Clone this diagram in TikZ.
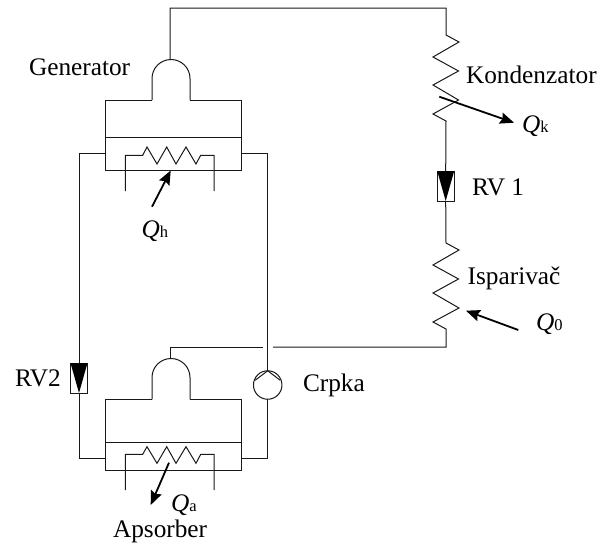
\documentclass[tikz,border=0pt]{standalone}
\usepackage{fontspec}
\setmainfont{Liberation Serif}
\usetikzlibrary{arrows.meta}
\tikzset{
  pipe/.style={draw=black!90,line width=1pt,line join=miter},
  lbl/.style={anchor=base west,inner sep=0pt,outer sep=0pt,font=\fontsize{25.3}{28}\selectfont,text=black},
  heatflow/.style={draw=black,line width=1.8pt,-{Stealth[length=14pt,width=11.5pt,inset=2pt]}},
  valvebox/.style={draw=black!90,line width=0.8pt,fill=white,minimum width=17pt,minimum height=30pt,inner sep=0pt,outer sep=0pt},
  pumpc/.style={circle,draw=black!90,line width=1pt,minimum size=28.5pt,inner sep=0pt,outer sep=0pt}
}
\newcommand{\Qsym}[1]{\textit{Q}{\fontsize{16.5}{18}\selectfont #1}}
\begin{document}
\begin{tikzpicture}[x=1pt,y=-1pt]
\useasboundingbox (0,0) rectangle (597,544);
% named points
\coordinate (gdome) at (170,59.5);
\coordinate (adome) at (170,358.5);
\coordinate (top1) at (170,8);
\coordinate (top2) at (446,8);
\coordinate (kin) at (446,35);
\coordinate (kout) at (446,121);
\coordinate (iin) at (446,243);
\coordinate (iout) at (446,329);
\coordinate (ibot) at (446,347);
\coordinate (gapr) at (273,347);
\coordinate (gapl) at (263,347);
\coordinate (atop) at (170,347);
\coordinate (gl) at (105.7,153.3);
\coordinate (gr) at (241.7,153.3);
\coordinate (al) at (105.7,458);
\coordinate (ar) at (241.7,458);
\coordinate (lc1) at (79,153.3);
\coordinate (lc2) at (79,458);
\coordinate (rc1) at (267.7,153.3);
\coordinate (rc2) at (267.7,458);
% valves and pump
\node[valvebox] (rv1) at (445.7,186) {};
\node[valvebox] (rv2) at (79,378) {};
\node[pumpc] (pump) at (267.7,385) {};
\fill[black] (rv1.north west) -- (rv1.north east) -- (rv1.south) -- cycle;
\fill[black] (rv2.north west) -- (rv2.north east) -- (rv2.south) -- cycle;
\draw[pipe] (pump.north) ++(-12.5,9.5) -- (pump.north) -- ++(12.5,9.5);
% generator
\draw[pipe] (152,100) -- (152,78.5) arc[start angle=180,end angle=360,radius=19] -- (190,100);
\draw[pipe] (152,100) -- (105.7,100) -- (105.7,170.7) -- (241.7,170.7) -- (241.7,100) -- (190,100);
\draw[pipe] (105.7,137.3) -- (241.7,137.3);
\draw[pipe] (125.3,191) -- (125.3,155.3) -- (142.7,155.3) -- (147,147) -- (157,164) -- (166.7,147) -- (176,164) -- (186,147) -- (196,164) -- (200.7,155.3) -- (214,155.3) -- (214,191);
% absorber
\draw[pipe] (152,399.3) -- (152,377.5) arc[start angle=180,end angle=360,radius=19] -- (190,399.3);
\draw[pipe] (152,399.3) -- (105.7,399.3) -- (105.7,470) -- (241.7,470) -- (241.7,399.3) -- (190,399.3);
\draw[pipe] (105.7,442.3) -- (241.7,442.3);
\draw[pipe] (125.3,490) -- (125.3,454.3) -- (142.7,454.3) -- (147,446.7) -- (157,463.3) -- (166.7,446.7) -- (176,463.3) -- (186,446.7) -- (196,463.3) -- (200.7,454.3) -- (214,454.3) -- (214,490);
% piping
\draw[pipe] (gdome) -- (top1) -- (top2) -- (kin) -- (459,42) -- (433,57) -- (458.5,71) -- (433,85) -- (458.5,100) -- (433,114) -- (kout) -- (rv1.north);
\draw[pipe] (rv1.south) -- (iin) -- (459,250) -- (433,265) -- (458.5,279) -- (433,293) -- (459,308) -- (433,322) -- (iout) -- (ibot) -- (gapr);
\draw[pipe] (gapl) -- (atop) -- (adome);
\draw[pipe] (gl) -- (lc1) -- (rv2.north);
\draw[pipe] (rv2.south) -- (lc2) -- (al);
\draw[pipe] (gr) -- (rc1) -- (pump.north);
\draw[pipe] (pump.south) -- (rc2) -- (ar);
% heat flows
\coordinate (qhs) at (152,206.7); \coordinate (qhe) at (170.7,170.5);
\coordinate (qas) at (169,462.7); \coordinate (qae) at (150.7,505);
\coordinate (qks) at (439.3,96.7); \coordinate (qke) at (514,122.7);
\coordinate (q0s) at (518.3,330); \coordinate (q0e) at (466,310.7);
\draw[heatflow] (qhs) -- (qhe);
\draw[heatflow] (qas) -- (qae);
\draw[heatflow] (qks) -- (qke);
\draw[heatflow] (q0s) -- (q0e);
% labels
\node[lbl] (tgen) at (29,75) {Generator};
\node[lbl] (tkon) at (466,83.3) {Kondenzator};
\node[lbl] (trv1) at (472,195.7) {RV 1};
\node[lbl] (tisp) at (467.7,284) {Isparivač};
\node[lbl] (trv2) at (15,386) {RV2};
\node[lbl] (tcrp) at (303,391.7) {Crpka};
\node[lbl] (taps) at (113,537.3) {Apsorber};
\node[lbl] (tqh) at (141.7,237.7) {\Qsym{h}};
\node[lbl] (tqa) at (171,511.7) {\Qsym{a}};
\node[lbl] (tqk) at (522,132) {\Qsym{k}};
\node[lbl] (tq0) at (536,330) {\Qsym{0}};
\end{tikzpicture}
\end{document}
